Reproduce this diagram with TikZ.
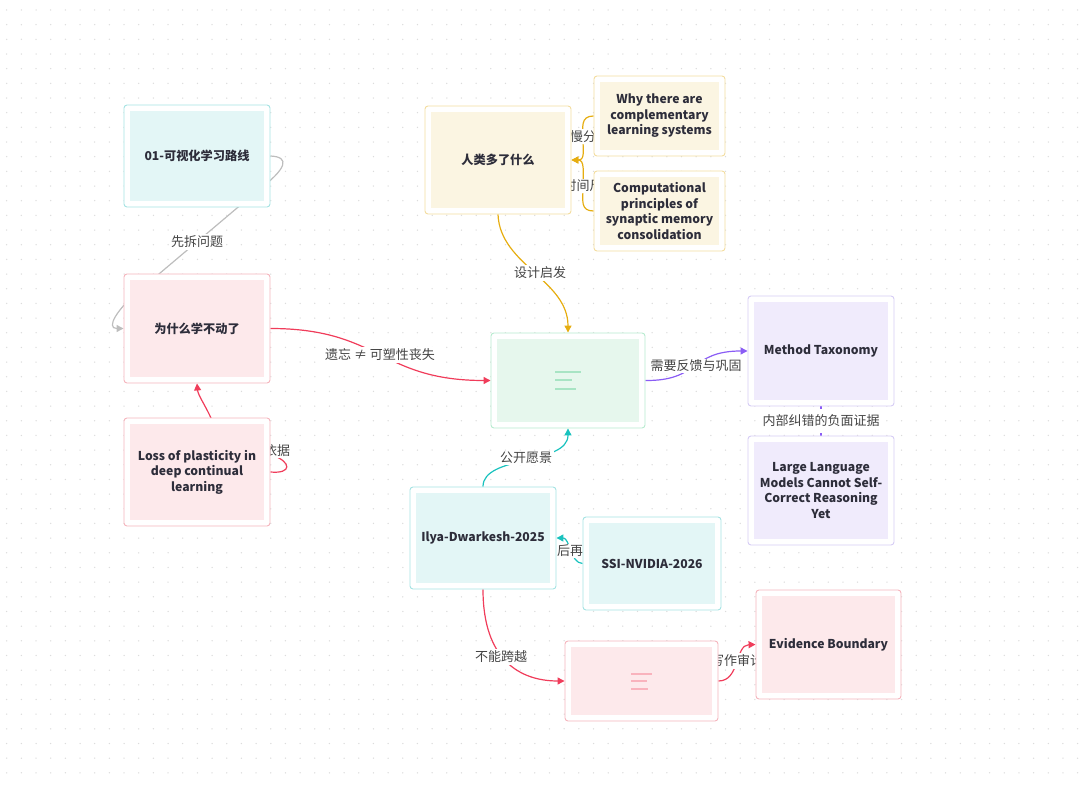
\documentclass[tikz,border=0pt]{standalone}
\usepackage{fontspec}
\setmainfont{Noto Sans CJK SC}
\usetikzlibrary{arrows.meta}
\definecolor{txt}{HTML}{2D2D3A}
\definecolor{lbltxt}{HTML}{444444}
\definecolor{dotc}{HTML}{DCDCDC}
\definecolor{cyB}{HTML}{A5E3E3}\definecolor{cyF}{HTML}{E3F6F6}
\definecolor{pkB}{HTML}{F5B5BD}\definecolor{pkF}{HTML}{FDE9EB}
\definecolor{ylB}{HTML}{F3DD9F}\definecolor{ylF}{HTML}{FBF5E2}
\definecolor{gnB}{HTML}{B7EBCF}\definecolor{gnF}{HTML}{E6F7ED}
\definecolor{ppB}{HTML}{D6CCF5}\definecolor{ppF}{HTML}{F0EBFC}
\definecolor{eGray}{HTML}{BDBDBD}
\definecolor{eRed}{HTML}{F03C5A}
\definecolor{eYel}{HTML}{E6AD10}
\definecolor{ePur}{HTML}{8A5CF5}
\definecolor{eTeal}{HTML}{19C2BE}
\definecolor{icG}{HTML}{A8E4C4}
\definecolor{icP}{HTML}{F9B3BD}
\pgfdeclarelayer{bg}
\pgfsetlayers{bg,main}
\tikzset{
  card/.style 2 args={draw=#1, fill=white, line width=0.9pt, rounded corners=3pt,
    inner sep=0pt, align=center, text=txt,
    font=\bfseries\fontsize{12.2}{15.5}\selectfont,
    path picture={\fill[#2, sharp corners] ([shift={(6pt,-6pt)}]path picture bounding box.north west)
      rectangle ([shift={(-6pt,6pt)}]path picture bounding box.south east);}},
  lbl/.style={fill=white, inner sep=1.5pt, text=lbltxt, font=\fontsize{13}{15}\selectfont},
  conn/.style={line width=1.2pt, -{Triangle[length=7pt,width=7pt]}},
  plainconn/.style={line width=1.2pt},
  iconline/.style={line width=2pt},
}
\begin{document}
\begin{tikzpicture}[x=1pt,y=-1pt]
\useasboundingbox (0,0) rectangle (1080,786);
% nodes
\node[card={cyB}{cyF}, minimum width=146pt, minimum height=102pt] (n01) at (197,156) {01-可视化学习路线};
\node[card={pkB}{pkF}, minimum width=146pt, minimum height=109pt] (nwhy) at (197,328.5) {为什么学不动了};
\node[card={pkB}{pkF}, minimum width=146pt, minimum height=108pt] (nloss) at (197,472) {Loss of plasticity in\\deep continual\\learning};
\node[card={ylB}{ylF}, minimum width=146pt, minimum height=108pt] (nhum) at (498,160) {人类多了什么};
\node[card={ylB}{ylF}, minimum width=131pt, minimum height=80pt] (ncls) at (659.5,116) {Why there are\\complementary\\learning systems};
\node[card={ylB}{ylF}, minimum width=131pt, minimum height=80pt] (ncomp) at (659.5,211) {Computational\\principles of\\synaptic memory\\consolidation};
\node[card={gnB}{gnF}, minimum width=154pt, minimum height=95pt] (ncen) at (568,380.5) {};
\node[card={ppB}{ppF}, minimum width=146pt, minimum height=110pt] (nmeth) at (821,351) {Method Taxonomy};
\node[card={ppB}{ppF}, minimum width=146pt, minimum height=109pt] (nllm) at (821,490.5) {Large Language\\Models Cannot Self-\\Correct Reasoning\\Yet};
\node[card={cyB}{cyF}, minimum width=146pt, minimum height=102pt] (nilya) at (483,538) {Ilya-Dwarkesh-2025};
\node[card={cyB}{cyF}, minimum width=138pt, minimum height=93pt] (nssi) at (652,563.5) {SSI-NVIDIA-2026};
\node[card={pkB}{pkF}, minimum width=153pt, minimum height=80pt] (nicon) at (641.5,681) {};
\node[card={pkB}{pkF}, minimum width=145pt, minimum height=109pt] (nevid) at (828.5,644.5) {Evidence Boundary};
% icons
\draw[iconline, icG] ([shift={(-13pt,8.8pt)}]ncen.center) -- ++(26pt,0pt);
\draw[iconline, icG] ([shift={(-13pt,0pt)}]ncen.center) -- ++(17pt,0pt);
\draw[iconline, icG] ([shift={(-13pt,-8.8pt)}]ncen.center) -- ++(21pt,0pt);
\draw[iconline, icP] ([shift={(-10.5pt,7pt)}]nicon.center) -- ++(21pt,0pt);
\draw[iconline, icP] ([shift={(-10.5pt,0pt)}]nicon.center) -- ++(16pt,0pt);
\draw[iconline, icP] ([shift={(-10.5pt,-8pt)}]nicon.center) -- ++(17pt,0pt);
\begin{pgfonlayer}{bg}
% dot grid
\foreach \i in {0,...,73}{
  \foreach \j in {0,...,53}{
    \fill[dotc] (6.7+14.67*\i,10+14.67*\j) circle (0.75pt);
  }
}
% edges
\draw[conn, eGray] (n01.east) .. controls (290,157) and (288,168) .. (256,192)
   -- (140,290) .. controls (118,308) and (105,328.5) .. (nwhy.west);
\draw[conn, eRed] (nwhy.east) .. controls (380,328.5) and (380,380.5) .. (ncen.west);
\draw[conn, eRed] (nloss.east) .. controls (292,474) and (292,462) .. (272,455)
   .. controls (250,447) and (218,435) .. (211,418) .. controls (205,405) and (198,395) .. (nwhy.south);
\draw[conn, eYel] (nhum.south) .. controls (500,265) and (568,280) .. (ncen.north);
\draw[conn, eYel] (ncls.west) .. controls (580,116) and (583,128) .. (583,138)
   .. controls (583,152) and (585,160) .. (nhum.east);
\draw[conn, eYel] (ncomp.west) .. controls (580,211) and (583,200) .. (583,188)
   .. controls (583,172) and (585,160) .. (nhum.east);
\draw[conn, ePur] (ncen.east) .. controls (700,381) and (690,351) .. (nmeth.west);
\draw[plainconn, ePur] (nmeth.south) -- (nllm.north);
\draw[conn, eTeal] (nilya.north) .. controls (483,455) and (568,465) .. (ncen.south);
\draw[conn, eTeal] (nssi.west) .. controls (570,563) and (570,538) .. (nilya.east);
\draw[conn, eRed] (nilya.south) .. controls (483,660) and (520,681) .. (nicon.west);
\draw[conn, eRed] (nicon.east) .. controls (740,681) and (735,645) .. (nevid.west);
% labels
\node[lbl] (l1) at (197,242) {先拆问题};
\node[lbl] (l2) at (380,355) {遗忘 ≠ 可塑性丧失};
\node[lbl] (l3) at (277,451) {依据};
\node[lbl] (l4) at (540,273) {设计启发};
\node[lbl] (l5) at (583,137) {慢分};
\node[lbl] (l6) at (583,186) {时间尺};
\node[lbl] (l7) at (696,366) {需要反馈与巩固};
\node[lbl, inner sep=6pt] (l8) at (821,421) {内部纠错的负面证据};
\node[lbl] (l9) at (526,458) {公开愿景};
\node[lbl] (l10) at (570,551) {后再};
\node[lbl] (l11) at (501,657) {不能跨越};
\node[lbl] (l12) at (737,661) {写作审计};
\end{pgfonlayer}
\end{tikzpicture}
\end{document}
